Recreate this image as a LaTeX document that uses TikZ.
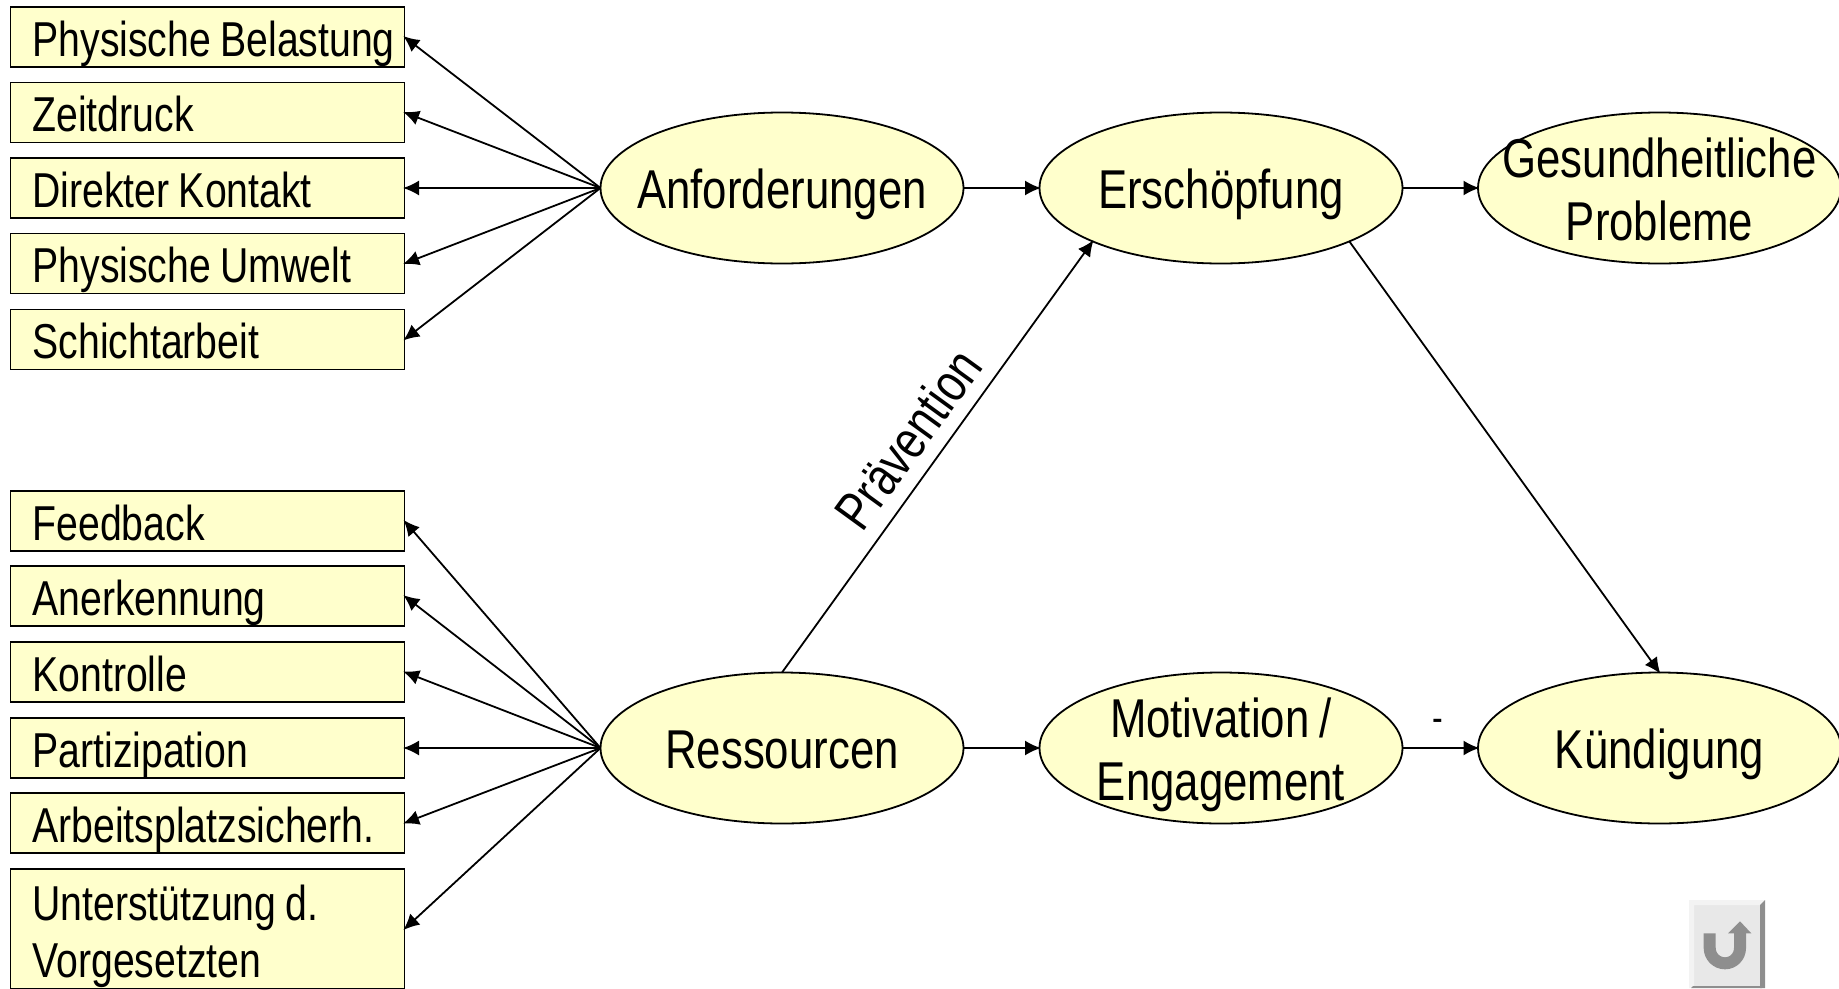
\documentclass[tikz,border=0pt]{standalone}
\usepackage{fontspec}
\setmainfont[FakeStretch=0.8,WordSpace=0.85]{Liberation Sans}
\usepackage{xcolor}
\usetikzlibrary{arrows.meta,shapes.geometric}
\definecolor{myyellow}{HTML}{FFFFCC}
\definecolor{mybtn}{HTML}{E8E8E8}
\definecolor{mybtnlight}{HTML}{F3F3F3}
\definecolor{mybtndark}{HTML}{8E8E8E}
\tikzset{
  >={Latex[length=16,width=15]},
  factor/.style={draw=black,line width=1.8,fill=myyellow,minimum width=394,minimum height=60,outer sep=0,
    text width=350,text height=44,text depth=6,inner xsep=22,inner ysep=0,align=flush left,font=\fontsize{49}{57}\selectfont},
  latent/.style={ellipse,draw=black,line width=1.8,fill=myyellow,minimum width=363,minimum height=151,outer sep=0,
    text height=44,text depth=4,inner xsep=-90,inner ysep=-40,align=center,font=\fontsize{54.7}{63}\selectfont},
  latent two/.style={latent,text height=109},
  connect/.style={->,line width=1.8,shorten >=-1.5}
}
\begin{document}
\begin{tikzpicture}[x=1pt, y=-1pt]
\useasboundingbox (0,0) rectangle (1839,988);

% Zeilen oben
\foreach \i/\y/\txt in {1/37/Physische Belastung,2/112.5/Zeitdruck,3/188/Direkter Kontakt,4/263.5/Physische Umwelt,5/339.5/Schichtarbeit}
  \node[factor] (D-\i) at (207.5,\y) {\mbox{\txt}};

% Zeilen unten
\foreach \i/\y/\txt in {1/521/Feedback,2/596/Anerkennung,3/672/Kontrolle,4/748/Partizipation,5/823/Arbeitsplatzsicherh.}
  \node[factor] (R-\i) at (207.5,\y) {\mbox{\txt}};
\node[factor,minimum height=120,text height=8.5,text depth=26] (R-6) at (207.5,929) {Unterstützung d.\\Vorgesetzten};

% Ellipsen
\node[latent] (Anf) at (782,188) {Anforderungen};
\node[latent] (Ers) at (1221,188) {Erschöpfung};
\node[latent two] (Ges) at (1659.5,188) {Gesundheitliche\\Probleme};
\node[latent] (Res) at (782,748) {Ressourcen};
\node[latent two] (Mot) at (1221,748) {Motivation /\\Engagement};
\node[latent] (Kue) at (1659.5,748) {Kündigung};

% Pfeile links
\foreach \i in {1,...,5}
  \draw[connect] (Anf.west) -- (D-\i.east);
\foreach \i in {1,...,6}
  \draw[connect] (Res.west) -- (R-\i.east);

% Pfeile rechts
\draw[connect] (Anf) -- (Ers);
\draw[connect] (Ers) -- (Ges);
\draw[connect] (Res) -- (Mot);
\draw[connect] (Mot) -- (Kue);
\draw[connect] (Res.north) -- (Ers.south west);
\draw[connect] (Ers.south east) -- (Kue.north);

% Beschriftungen
\node[rotate=54,font=\fontsize{54}{54}\selectfont] (Pra) at (908,439) {Prävention};
\node[font=\fontsize{40}{40}\selectfont] (Min) at (1438,725) {-};

% Button
\fill[mybtn] (1689,900) rectangle (1765,988);
\fill[mybtnlight] (1689,900) -- (1765,900) -- (1760,905) -- (1694,905) -- (1694,988) -- (1689,988) -- cycle;
\fill[mybtndark] (1765,900) -- (1765,988) -- (1760,988) -- (1760,905) -- cycle;
\fill[mybtndark] (1691,988) -- (1693,986) -- (1760,986) -- (1762,988) -- cycle;
\draw[mybtndark,line width=12] (1709.7,933.3) -- (1709.7,948) .. controls (1709.7,956.45) and (1716.55,963.3) .. (1725,963.3) .. controls (1733.45,963.3) and (1740,956.45) .. (1740,948) -- (1740,932);
\fill[mybtndark] (1740,921.3) -- (1751.3,933.3) -- (1728,933.3) -- cycle;

\end{tikzpicture}
\end{document}
